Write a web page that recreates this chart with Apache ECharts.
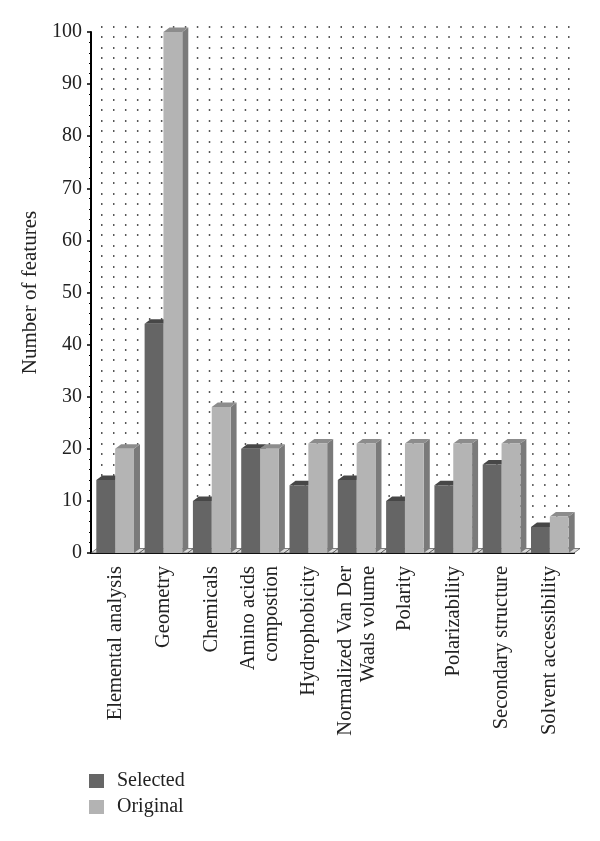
<!DOCTYPE html>
<html><head><meta charset="utf-8">
<script src="https://cdn.jsdelivr.net/npm/echarts@6/dist/echarts.min.js"></script>
<style>html,body{margin:0;padding:0;background:#fff}#c{width:600px;height:841px}</style>
</head><body><div id="c"></div>
<script>
var categories = ["Elemental analysis","Geometry","Chemicals","Amino acids\ncompostion","Hydrophobicity","Normalized Van Der\nWaals volume","Polarity","Polarizability","Secondary structure","Solvent accessibility"];
var selectedValues = [14,44,10,20,13,14,10,13,17,5];
var originalValues = [20,100,28,20,21,21,21,21,21,7];
var yTicks = [0,10,20,30,40,50,60,70,80,90,100];

var FONT = '"Liberation Serif","DejaVu Serif",serif';
var DX = 6, DY = 4.5;

function bar3d(offsetSign, front, top, side, drawFloor){
  return function(params, api){
    var idx = api.value(0), val = api.value(1);
    var base = api.coord([idx, 0]);
    var tp = api.coord([idx, val]);
    var band = api.size([1, 0])[0];
    var bw = band * 0.39;
    var x = offsetSign < 0 ? base[0] - bw : base[0];
    var y0 = base[1], y1 = tp[1];
    var children = [];
    if (drawFloor) {
      var L = base[0] - band/2, R = base[0] + band/2;
      children.push({type:'polygon', shape:{points:[[L,y0],[R,y0],[R+DX,y0-DY],[L+DX,y0-DY]]},
        style:{fill:'#d9d9d9', stroke:'#333', lineWidth:0.6}});
    }
    children.push({type:'polygon', shape:{points:[[x+bw,y1],[x+bw+DX,y1-DY],[x+bw+DX,y0-DY],[x+bw,y0]]}, style:{fill:side}});
    children.push({type:'polygon', shape:{points:[[x,y1],[x+bw,y1],[x+bw+DX,y1-DY],[x+DX,y1-DY]]}, style:{fill:top}});
    children.push({type:'rect', shape:{x:x, y:y1, width:bw, height:y0-y1}, style:{fill:front}});
    return {type:'group', children:children};
  };
}

var chart = echarts.init(document.getElementById('c'));
chart.setOption({
  animation:false,
  backgroundColor:'#fff',
  grid:[
    {left:91, right:26, top:32, bottom:288},
    {left:101, right:30, top:26.7, bottom:293.3}
  ],
  legend:{
    orient:'vertical', left:84, top:766, itemWidth:15, itemHeight:14, itemGap:6,
    icon:'rect',
    textStyle:{fontFamily:FONT, fontSize:20, color:'#222', padding:[0,0,0,8]},
    data:['Selected','Original']
  },
  xAxis:[
    {type:'category', gridIndex:0, data:categories,
     axisLine:{lineStyle:{color:'#000', width:2}},
     axisTick:{show:false},
     axisLabel:{interval:0, rotate:90, margin:13, fontFamily:FONT, fontSize:20.5, lineHeight:23, color:'#222'},
     splitLine:{show:false}},
    {type:'value', gridIndex:1, min:0, max:1, show:false}
  ],
  yAxis:[
    {type:'value', gridIndex:0, min:0, max:100, interval:10,
     name:'Number of features', nameLocation:'middle', nameRotate:90, nameGap:48,
     nameTextStyle:{fontFamily:FONT, fontSize:21, color:'#222'},
     axisLine:{show:true, lineStyle:{color:'#000', width:2}},
     axisTick:{show:true, length:4, lineStyle:{color:'#000', width:1.5}},
     minorTick:{show:true, splitNumber:5, length:2, lineStyle:{color:'#000', width:1}},
     axisLabel:{fontFamily:FONT, fontSize:20, color:'#222', margin:9,
       formatter:function(v){ return yTicks.indexOf(v) >= 0 ? String(v) : ''; }},
     splitLine:{show:false}},
    {type:'value', gridIndex:1, min:0, max:100, interval:10,
     axisLine:{show:false}, axisTick:{show:false}, axisLabel:{show:false},
     splitLine:{show:true, lineStyle:{color:'#222', width:1.5, type:[1.5,10.475]}},
     minorSplitLine:{show:true, lineStyle:{color:'#222', width:1.5, type:[1.5,10.475]}},
     minorTick:{show:false, splitNumber:5}}
  ],
  series:[
    {name:'Selected', type:'custom', xAxisIndex:0, yAxisIndex:0,
     itemStyle:{color:'#666666'},
     renderItem: bar3d(-1, '#656565', '#474747', '#555555', true),
     encode:{x:0, y:1},
     data: selectedValues.map(function(v,i){ return [i, v]; })},
    {name:'Original', type:'custom', xAxisIndex:0, yAxisIndex:0,
     itemStyle:{color:'#b3b3b3'},
     renderItem: bar3d(1, '#b4b4b4', '#8c8c8c', '#7a7a7a', false),
     encode:{x:0, y:1},
     data: originalValues.map(function(v,i){ return [i, v]; })},
    {type:'scatter', xAxisIndex:1, yAxisIndex:1, data:[], silent:true}
  ]
});
</script></body></html>
